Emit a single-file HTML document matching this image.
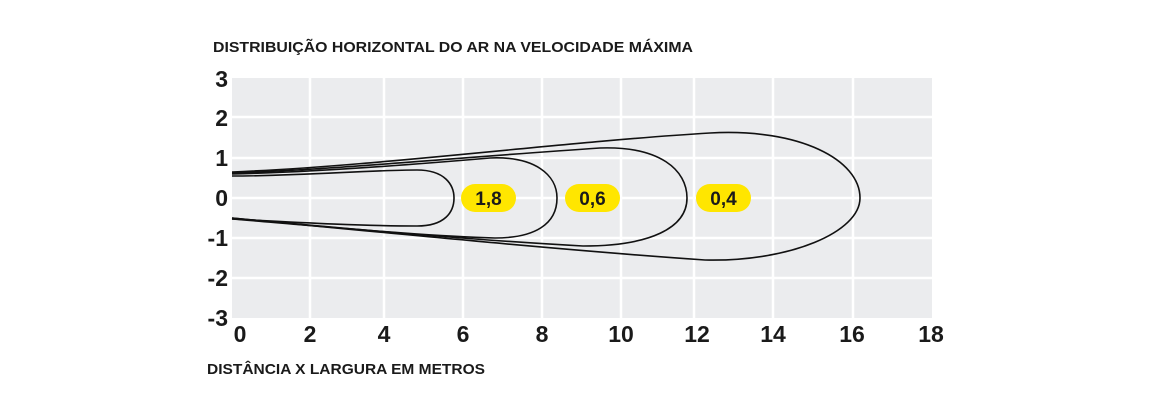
<!DOCTYPE html>
<html><head><meta charset="utf-8"><style>
body{margin:0;background:#fff}
svg{display:block}
text{font-family:"Liberation Sans",sans-serif;font-weight:bold;fill:#1a1a1a}
</style></head><body>
<svg width="1150" height="413" viewBox="0 0 1150 413">
<rect x="232" y="78" width="700" height="240" fill="#ebecee"/>
<g stroke="#fff" stroke-width="2.5">
<line x1="310" y1="78" x2="310" y2="318"/><line x1="384" y1="78" x2="384" y2="318"/>
<line x1="463" y1="78" x2="463" y2="318"/><line x1="542" y1="78" x2="542" y2="318"/>
<line x1="621" y1="78" x2="621" y2="318"/><line x1="694" y1="78" x2="694" y2="318"/>
<line x1="773" y1="78" x2="773" y2="318"/><line x1="853" y1="78" x2="853" y2="318"/>
<line x1="232" y1="117" x2="932" y2="117"/><line x1="232" y1="158" x2="932" y2="158"/>
<line x1="232" y1="198" x2="932" y2="198"/><line x1="232" y1="238" x2="932" y2="238"/>
<line x1="232" y1="278" x2="932" y2="278"/>
</g>
<g fill="none" stroke="#111" stroke-width="1.6">
<path d="M232,176 C300,176 370,170 417,170 C445,170 454,185 454,198 C454,212 445,226 417,226 C360,226 290,222 232,219"/>
<path d="M232,174 C320,172 420,164 490,158 C535,156 557,175 557,198 C557,224 535,238 495,238 C420,236 320,226 232,219"/>
<path d="M232,173 C330,170 450,158 600,148 C660,146 687,170 687,198 C687,228 650,246 583,246 C470,240 340,228 232,218"/>
<path d="M232,172 C380,166 560,142 710,133 C800,128 860,160 860,198 C860,232 790,262 705,260 C560,250 400,234 232,218"/>
</g>
<g fill="#ffe600">
<rect x="461" y="184" width="55" height="28" rx="14"/>
<rect x="565" y="184" width="55" height="28" rx="14"/>
<rect x="696" y="184" width="55" height="28" rx="14"/>
</g>
<g font-size="19" text-anchor="middle">
<text x="488.5" y="205">1,8</text><text x="592.5" y="205">0,6</text><text x="723.5" y="205">0,4</text>
</g>
<g font-size="23" text-anchor="end">
<text x="228" y="87">3</text><text x="228" y="126">2</text><text x="228" y="166">1</text>
<text x="228" y="206">0</text><text x="228" y="246">-1</text><text x="228" y="286">-2</text><text x="228" y="326">-3</text>
</g>
<g font-size="23" text-anchor="middle">
<text x="240" y="342">0</text><text x="310" y="342">2</text><text x="384" y="342">4</text><text x="463" y="342">6</text>
<text x="542" y="342">8</text><text x="621" y="342">10</text><text x="697" y="342">12</text><text x="773" y="342">14</text>
<text x="852" y="342">16</text><text x="931" y="342">18</text>
</g>
<text x="213" y="52" font-size="15" textLength="480" lengthAdjust="spacingAndGlyphs">DISTRIBUIÇÃO HORIZONTAL DO AR NA VELOCIDADE MÁXIMA</text>
<text x="207" y="374" font-size="15" textLength="278" lengthAdjust="spacingAndGlyphs">DISTÂNCIA X LARGURA EM METROS</text>
</svg>
</body></html>
